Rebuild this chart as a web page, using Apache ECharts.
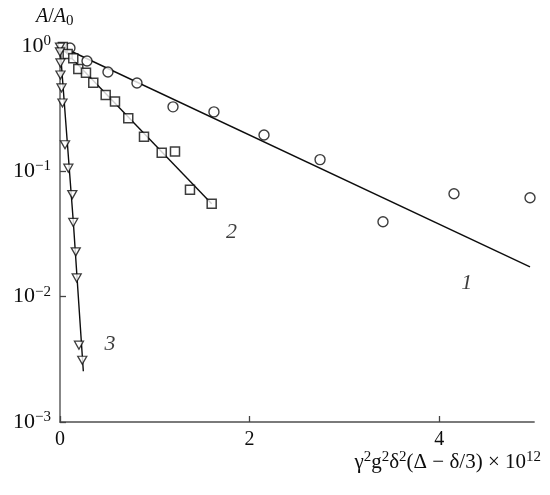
<!DOCTYPE html>
<html>
<head>
<meta charset="utf-8">
<script src="https://cdn.jsdelivr.net/npm/echarts@6/dist/echarts.min.js"></script>
<style>html,body{margin:0;padding:0;background:#fff}#c{width:550px;height:495px}</style>
</head>
<body>
<div id="c"></div>
<script>
// Curve 1 (circles)
const circX = [0.105, 0.285, 0.506, 0.812, 1.192, 1.624, 2.152, 2.743, 3.407, 4.156, 4.958];
const circY = [0.964, 0.76, 0.621, 0.507, 0.327, 0.298, 0.195, 0.124, 0.0396, 0.0662, 0.0615];
const fit1X = [0, 4.958];
const fit1Y = [1.0, 0.0173];
// Curve 2 (squares)
const sqX = [0.03, 0.081, 0.14, 0.193, 0.274, 0.351, 0.482, 0.58, 0.72, 0.886, 1.073, 1.213, 1.371, 1.6];
const sqY = [0.98, 0.863, 0.798, 0.656, 0.613, 0.51, 0.407, 0.36, 0.265, 0.189, 0.141, 0.144, 0.0712, 0.0551];
const fit2X = [0, 1.6];
const fit2Y = [1.0, 0.0551];
// Curve 3 (triangles)
const triX = [0.0, 0.0, 0.005, 0.005, 0.016, 0.026, 0.053, 0.088, 0.13, 0.14, 0.166, 0.176, 0.2, 0.235];
const triY = [0.98, 0.896, 0.732, 0.587, 0.463, 0.351, 0.163, 0.106, 0.0652, 0.0391, 0.0228, 0.0141, 0.0041, 0.00311];
const fit3X = [0, 0.14, 0.246];
const fit3Y = [1.0, 0.04, 0.00254];
// Curve labels
const curveLabels = ['1', '2', '3'];
const curveLabelX = [4.29, 1.81, 0.527];
const curveLabelY = [0.0129, 0.0324, 0.00415];
// Axes
const xTicks = [0, 2, 4];
const yTicks = [0.001, 0.01, 0.1, 1];

const zip = (a, b) => a.map((v, i) => [v, b[i]]);
const ink = '#0d0d0d';
const serif = '"Liberation Serif", "DejaVu Serif", serif';

const chart = echarts.init(document.getElementById('c'));
chart.setOption({
  backgroundColor: '#fff',
  animation: false,
  grid: { left: 60, right: 16, top: 46, bottom: 73, containLabel: false },
  xAxis: {
    type: 'value', min: 0, max: 5, interval: 2,
    axisLine: { lineStyle: { color: '#7a7a7a', width: 1.8 } },
    axisTick: { inside: true, length: 6, lineStyle: { color: '#444', width: 1.3 } },
    axisLabel: { showMaxLabel: false, color: ink, fontFamily: serif, fontSize: 20, margin: 8,
      formatter: v => xTicks.includes(v) ? String(v) : '' },
    splitLine: { show: false }
  },
  yAxis: {
    type: 'log', logBase: 10, min: yTicks[0], max: yTicks[yTicks.length - 1],
    axisLine: { show: true, lineStyle: { color: '#7a7a7a', width: 1.8 } },
    axisTick: { show: true, inside: true, length: 6, lineStyle: { color: '#444', width: 1.3 } },
    axisLabel: {
      color: ink, fontFamily: serif, margin: 9,
      formatter: v => {
        const e = Math.round(Math.log10(v));
        return '{b|10}{s|' + (e === 0 ? '0' : '\u2212' + (-e)) + '}';
      },
      rich: {
        b: { fontFamily: serif, fontSize: 22, color: ink },
        s: { fontFamily: serif, fontSize: 15, color: ink, padding: [0, 0, 10, 0] }
      }
    },
    splitLine: { show: false }
  },
  graphic: [
    {
      type: 'text', left: 36, top: 7,
      style: {
        text: '{i|A}{n|/}{i|A}{sub|0}',
        rich: {
          i: { fontFamily: serif, fontStyle: 'italic', fontSize: 20, fill: ink },
          n: { fontFamily: serif, fontSize: 20, fill: ink },
          sub: { fontFamily: serif, fontSize: 15, fill: ink, padding: [8, 0, 0, 0] }
        }
      }
    },
    {
      type: 'text', right: 9, top: 450,
      style: {
        text: '{t|\u03b3}{s|2}{t|g}{s|2}{t|\u03b4}{s|2}{t|(\u0394 \u2212 \u03b4/3) \u00d7 10}{s|12}',
        rich: {
          t: { fontFamily: serif, fontSize: 21, fill: ink },
          s: { fontFamily: serif, fontSize: 15, fill: ink, padding: [0, 0, 9, 0] }
        }
      }
    }
  ],
  series: [
    { type: 'line', data: zip(fit1X, fit1Y), symbol: 'none', lineStyle: { color: ink, width: 1.4 }, z: 2 },
    { type: 'line', data: zip(fit2X, fit2Y), symbol: 'none', lineStyle: { color: ink, width: 1.4 }, z: 2 },
    { type: 'line', data: zip(fit3X, fit3Y), symbol: 'none', lineStyle: { color: ink, width: 1.4 }, z: 2 },
    { type: 'scatter', data: zip(circX, circY), symbol: 'circle', symbolSize: 10,
      itemStyle: { color: '#fff', borderColor: ink, borderWidth: 1.4 }, z: 3 },
    { type: 'scatter', data: zip(sqX, sqY), symbol: 'rect', symbolSize: 9,
      itemStyle: { color: '#fff', borderColor: ink, borderWidth: 1.5 }, z: 3 },
    { type: 'scatter', data: zip(triX, triY), symbol: 'triangle', symbolRotate: 180, symbolSize: [9, 8],
      itemStyle: { color: '#fff', borderColor: ink, borderWidth: 1.3 }, z: 4 },
    { type: 'scatter', symbolSize: 0, silent: true, z: 5,
      data: curveLabels.map((t, i) => ({ value: [curveLabelX[i], curveLabelY[i]], name: t })),
      label: { show: true, position: 'inside', formatter: p => p.name,
        fontFamily: serif, fontStyle: 'italic', fontSize: 22, color: ink } }
  ]
});
</script>
</body>
</html>
